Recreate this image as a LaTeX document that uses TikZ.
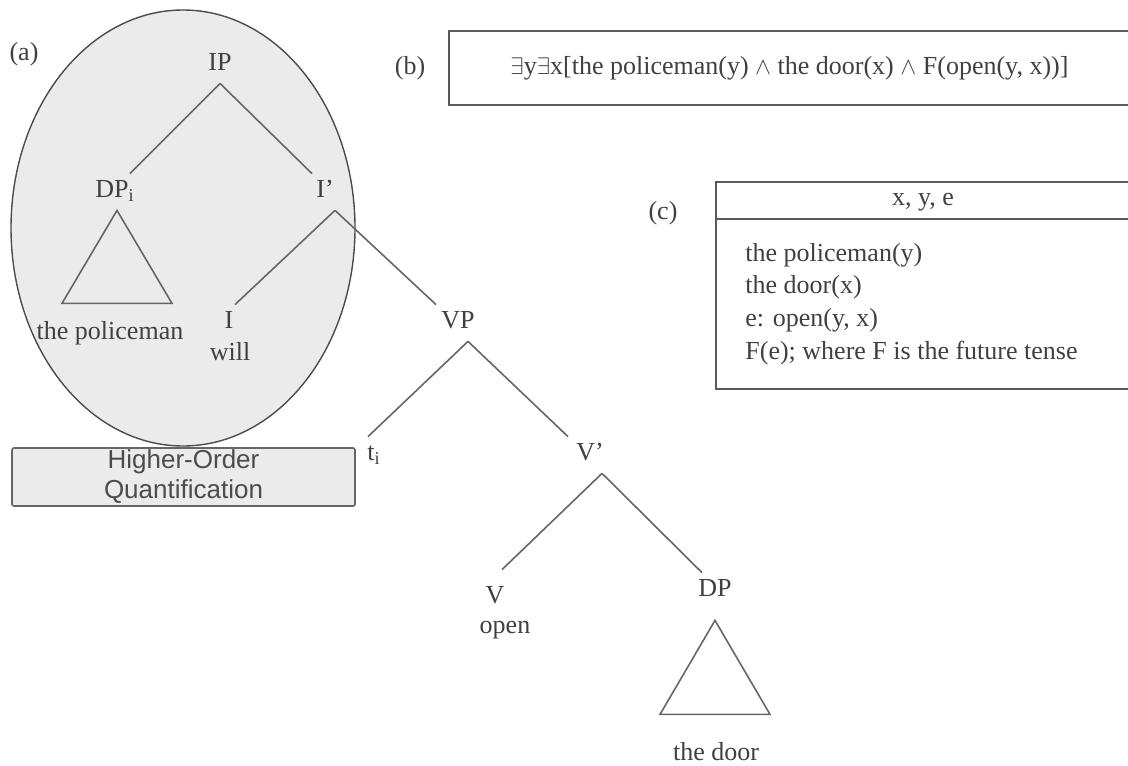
\documentclass[tikz,border=0pt]{standalone}
\usepackage{fontspec}
\setmainfont{Liberation Serif}
\setsansfont{Liberation Sans}
\usepackage{tikz}
\usetikzlibrary{positioning, shapes.geometric}

\begin{document}
\begin{tikzpicture}[x=0.5pt, y=-0.5pt,
    lbl/.style={font=\fontsize{13}{16.3}\selectfont, text=black!75, inner sep=0pt},
    cat/.style={lbl, minimum height=18pt, text height=1.5ex, text depth=.25ex},
    branch/.style={draw=black!60, line width=0.8pt},
    boxline/.style={draw=black!65, line width=0.9pt}]
            \useasboundingbox (0,0) rectangle (1128,765);

            % (a) the tree
            \node[ellipse, draw=black!70, fill=black!8, line width=0.7pt, minimum width=172pt, minimum height=218pt, inner sep=0pt] (hoqarea) at (183,228) {};
            \node[lbl, draw=black!60, fill=black!8, line width=0.8pt, rounded corners=1pt, minimum width=171.5pt, minimum height=29pt, align=center, font=\sffamily\fontsize{13}{15}\selectfont, text=black!70] (hoq) at (183.5,477) {Higher-Order\\Quantification};

            \node[lbl] (la) at (24,54) {(a)};
            \node[cat] (IP) at (220,65) {IP};
            \node[cat] (DPi) at (115,192) {DP\textsubscript{i}};
            \node[cat] (Ibar) at (325,192) {I’};
            \node[cat] (I) at (229,323) {I};
            \node[lbl] (will) at (230,352) {will};
            \node[lbl] (policeman) at (110,333) {the policeman};
            \node[cat] (VP) at (458,323) {VP};
            \node[cat] (t) at (374,455) {t\textsubscript{i}};
            \node[cat] (Vbar) at (590,455) {V’};
            \node[cat] (V) at (495,598) {V};
            \node[lbl] (open) at (505,630) {open};
            \node[cat] (DP) at (715,591) {DP};
            \node[lbl] (door) at (716,752) {the door};

            \draw[branch] (IP.south) -- ([xshift=7.5pt]DPi.north);
            \draw[branch] (IP.south) -- ([xshift=-6.5pt]Ibar.north);
            \draw[branch] ([xshift=5pt]Ibar.south) -- ([xshift=3pt]I.north);
            \draw[branch] ([xshift=5pt]Ibar.south) -- ([xshift=-11pt]VP.north);
            \draw[branch] ([xshift=5pt]VP.south) -- ([xshift=-3pt]t.north);
            \draw[branch] ([xshift=5pt]VP.south) -- ([xshift=-11pt]Vbar.north);
            \draw[branch] ([xshift=6pt]Vbar.south) -- ([xshift=3.5pt,yshift=5pt]V.north);
            \draw[branch] ([xshift=6pt]Vbar.south) -- ([xshift=-6.5pt]DP.north);
            \draw[branch] ([xshift=1pt]DPi.south) -- ++(55,93) -- ++(-110,0) -- cycle;
            \draw[branch] ([yshift=-5.5pt]DP.south) -- ++(55,94) -- ++(-110,0) -- cycle;

            % (b) the formula
            \node[lbl] (lb) at (410,68) {(b)};
            \node[lbl, boxline, minimum width=340.5pt, minimum height=37pt] (formula) at (789.5,68)
                {$\exists$y$\exists$x[the policeman(y) $\wedge$ the door(x) $\wedge$ F(open(y, x))]};

            % (c) the DRS
            \node[lbl] (lc) at (663,213) {(c)};
            \draw[boxline] (1140,182) -- (716,182) -- (716,389) -- (1140,389);
            \draw[boxline] (716,219) -- (1140,219);
            \node[lbl] (refs) at (923,202) {x, y, e};
            \node[lbl, anchor=west, align=left] (conds) at (745,304)
                {the policeman(y)\\the door(x)\\e: open(y, x)\\F(e); where F is the future tense};
\end{tikzpicture}
\end{document}
